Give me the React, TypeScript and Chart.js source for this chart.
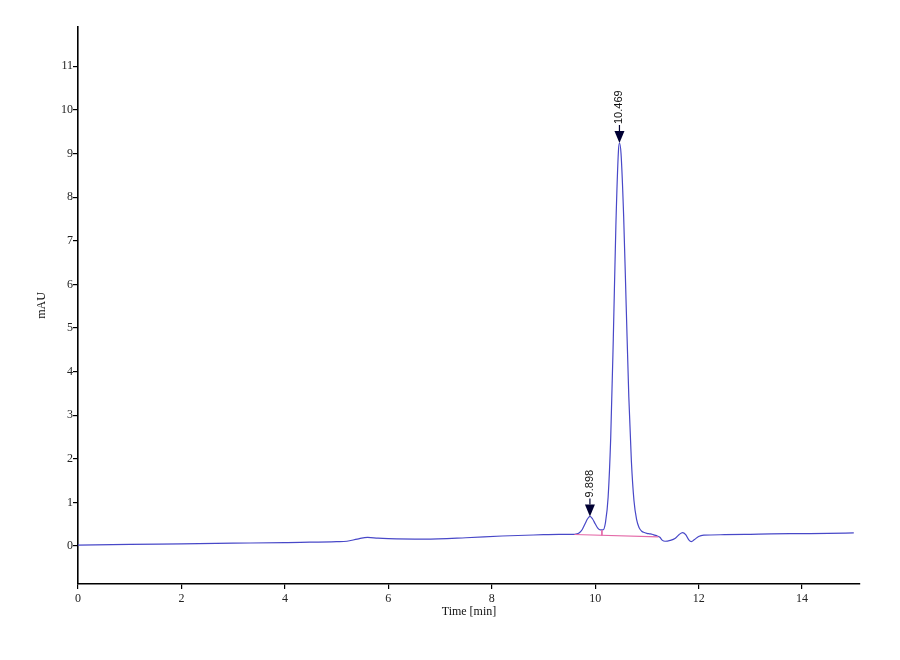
import React, { useEffect, useRef } from "react";
import { Chart, registerables, Plugin } from "chart.js";

Chart.register(...registerables);

// chromatogram trace (time in min, signal in mAU)
const times = [
  0, 1, 2, 3, 4, 4.3, 5.0, 5.2, 5.4, 5.6, 5.8, 6.0, 6.7, 7.5, 8.2, 9.0, 9.3, 9.6,
  9.65, 9.7, 9.75, 9.8, 9.85, 9.9, 9.95, 10.0, 10.05, 10.1, 10.15, 10.2, 10.25,
  10.3, 10.35, 10.4, 10.45, 10.47, 10.5, 10.55, 10.6, 10.65, 10.7, 10.75, 10.8,
  10.85, 10.9, 10.95, 11.0, 11.05, 11.1, 11.15, 11.2, 11.25, 11.3, 11.35, 11.45,
  11.55, 11.62, 11.69, 11.75, 11.81, 11.86, 11.92, 12.0, 12.1, 12.5, 13.0, 13.4,
  14.0, 14.5, 15.0,
];
const signal = [
  0.02, 0.04, 0.05, 0.065, 0.08, 0.085, 0.1, 0.11, 0.16, 0.2, 0.18, 0.17, 0.16,
  0.19, 0.23, 0.26, 0.27, 0.27,
  0.28, 0.31, 0.38, 0.5, 0.62, 0.68, 0.62, 0.51, 0.41, 0.37, 0.37, 0.55, 1.12,
  2.48, 4.75, 7.35, 9.07, 9.24, 8.99, 7.57, 5.48, 3.42, 1.94, 1.04, 0.61,
  0.42, 0.34, 0.31, 0.29, 0.28, 0.27, 0.25, 0.23, 0.2, 0.13, 0.11, 0.13,
  0.18, 0.26, 0.31, 0.26, 0.14, 0.1, 0.15, 0.22, 0.25, 0.26, 0.27, 0.28,
  0.285, 0.29, 0.3,
];

// integration baseline and valley drop line
const baseTimes = [9.6, 11.22];
const baseValues = [0.265, 0.21];
const dropTimes = [10.13, 10.13];
const dropValues = [0.36, 0.245];

// detected peaks
const peakTimes = [9.898, 10.469];
const peakApex = [0.68, 9.24];
const peakLabels = ["9.898", "10.469"];

const xTicks = [0, 2, 4, 6, 8, 10, 12, 14];
const yTicks = [0, 1, 2, 3, 4, 5, 6, 7, 8, 9, 10, 11];

const serif = "'Liberation Serif', 'Times New Roman', serif";

const peakMarkers: Plugin = {
  id: "peakMarkers",
  afterDatasetsDraw(chart) {
    const { ctx, scales } = chart;
    peakTimes.forEach((t, i) => {
      const x = scales.x.getPixelForValue(t);
      const y = scales.y.getPixelForValue(peakApex[i]);
      ctx.save();
      // arrow head
      ctx.fillStyle = "#000033";
      ctx.beginPath();
      ctx.moveTo(x, y);
      ctx.lineTo(x - 5, y - 12);
      ctx.lineTo(x + 5, y - 12);
      ctx.closePath();
      ctx.fill();
      ctx.strokeStyle = "#000033";
      ctx.lineWidth = 1.2;
      ctx.beginPath();
      ctx.moveTo(x, y - 12);
      ctx.lineTo(x, y - 18);
      ctx.stroke();
      // label
      ctx.translate(x, y - 19);
      ctx.rotate(-Math.PI / 2);
      ctx.fillStyle = "#111111";
      ctx.font = "11px 'Liberation Sans', Arial, sans-serif";
      ctx.textAlign = "left";
      ctx.textBaseline = "middle";
      ctx.fillText(peakLabels[i], 0, 0);
      ctx.restore();
    });
  },
};

export default function App() {
  const canvasRef = useRef<HTMLCanvasElement | null>(null);

  useEffect(() => {
    if (!canvasRef.current) return;
    const ctx = canvasRef.current.getContext("2d");
    if (!ctx) return;

    const chart = new Chart(ctx, {
      type: "line",
      data: {
        datasets: [
          {
            label: "baseline",
            data: baseTimes.map((t, i) => ({ x: t, y: baseValues[i] })),
            borderColor: "#e46aa8",
            borderWidth: 1.2,
            pointRadius: 0,
          },
          {
            label: "drop",
            data: dropTimes.map((t, i) => ({ x: t, y: dropValues[i] })),
            borderColor: "#e46aa8",
            borderWidth: 1,
            pointRadius: 0,
          },
          {
            label: "signal",
            data: times.map((t, i) => ({ x: t, y: signal[i] })),
            borderColor: "#4848c8",
            borderWidth: 1.2,
            pointRadius: 0,
            cubicInterpolationMode: "monotone",
          },
        ],
      },
      options: {
        responsive: false,
        animation: false,
        layout: { padding: { top: 27, right: 40, left: 0, bottom: 0 } },
        plugins: {
          legend: { display: false },
          tooltip: { enabled: false },
        },
        scales: {
          x: {
            type: "linear",
            min: 0,
            max: 15.12,
            afterFit: (s) => {
              s.height = 76;
            },
            afterBuildTicks: (s) => {
              s.ticks = xTicks.map((v) => ({ value: v }));
            },
            ticks: {
              color: "#222",
              padding: 3,
              maxRotation: 0,
              font: { family: serif, size: 12 },
            },
            grid: { display: true, drawOnChartArea: false, drawTicks: true, tickLength: 5, color: "#000", lineWidth: 1.2 },
            border: { display: true, color: "#000", width: 1.6 },
            title: {
              display: true,
              text: "Time [min]",
              color: "#111",
              font: { family: serif, size: 12 },
              padding: { top: 0, bottom: 41 },
            },
          },
          y: {
            type: "linear",
            min: -0.87,
            max: 11.9,
            afterFit: (s) => {
              s.width = 78;
            },
            afterBuildTicks: (s) => {
              s.ticks = yTicks.map((v) => ({ value: v }));
            },
            ticks: {
              color: "#222",
              padding: 0,
              font: { family: serif, size: 12 },
            },
            grid: { display: true, drawOnChartArea: false, drawTicks: true, tickLength: 5, color: "#000", lineWidth: 1.2 },
            border: { display: true, color: "#000", width: 1.6 },
            title: {
              display: true,
              text: "mAU",
              color: "#111",
              font: { family: serif, size: 12 },
              padding: { top: 35, bottom: 0 },
            },
          },
        },
      },
      plugins: [peakMarkers],
    });
    return () => chart.destroy();
  }, []);

  return (
    <div style={{ position: "fixed", left: 0, top: 0, width: 900, height: 660, background: "#ffffff" }}>
      <canvas ref={canvasRef} width={900} height={660} />
    </div>
  );
}
